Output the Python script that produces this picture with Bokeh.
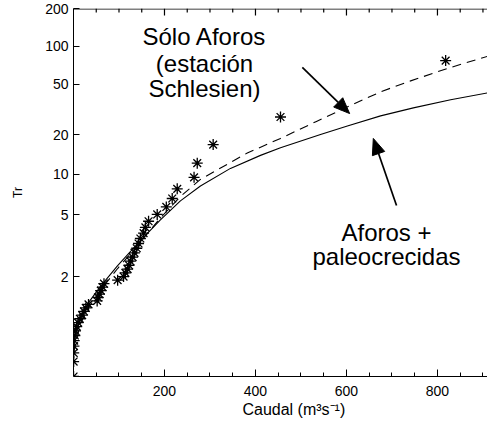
import numpy as np
from bokeh.plotting import figure
from bokeh.models import (Range1d, FixedTicker, CustomJSTickFormatter,
                          Label, ColumnDataSource)
from bokeh.embed import file_html
from bokeh.resources import INLINE

# ---- data (Caudal in m3/s, Tr = return period in years) ----
fit_all_q = [0, 7, 15, 33, 59, 97, 125, 154, 191, 235, 279, 345, 411, 455, 543, 602, 675, 747, 829, 910]
fit_all_tr = [1.093, 1.182, 1.287, 1.485, 1.769, 2.313, 2.822, 3.488, 4.604, 6.31, 8.14, 11.05,
              13.9, 15.9, 20.2, 23.5, 28.2, 32.6, 37.7, 42.8]

fit_gauge_q = [0, 15, 33, 59, 97, 125, 154, 191, 235, 279, 382, 455, 534, 607, 675, 741, 822, 910]
fit_gauge_tr = [1.064, 1.239, 1.415, 1.689, 2.222, 2.722, 3.458, 4.757, 6.80, 9.12, 14.5, 18.8,
                25.5, 33.8, 43.6, 53.2, 66.8, 83.3]

obs_q = [818, 455, 307, 272, 265, 228, 217, 204, 184, 165, 158, 154, 147, 143, 139, 134, 130, 125,
         122, 119, 114, 110, 97, 67, 64, 60, 57, 54, 52, 33, 27, 23, 19, 14, 10, 7, 4.5, 3, 1.5,
         1, 0.5, 0.3, 0.1]
obs_tr = [77.0, 27.64, 16.84, 12.11, 9.456, 7.755, 6.573, 5.704, 5.037, 4.510, 4.083, 3.730,
          3.433, 3.180, 2.962, 2.771, 2.604, 2.456, 2.323, 2.204, 2.097, 2.000, 1.911, 1.830,
          1.756, 1.687, 1.623, 1.565, 1.510, 1.459, 1.411, 1.366, 1.324, 1.285, 1.248, 1.213,
          1.179, 1.148, 1.118, 1.090, 1.063, 1.038, 1.013]

y_tick_tr = [2, 5, 10, 20, 50, 100, 200]
x_tick_q = [200, 400, 600, 800]
x_minor_q = [50, 100, 150, 250, 300, 350, 450, 500, 550, 650, 700, 750, 850, 900]
y_lo_tr, y_hi_tr = 1.013, 200
x_lo, x_hi = 0, 910


def gumbel(t):
    t = np.asarray(t, dtype=float)
    return -np.log(-np.log(1.0 - 1.0 / t))


FONT = "Liberation Sans"
FRAME_W, FRAME_H = 414, 368
y_lo, y_hi = float(gumbel(y_lo_tr)), float(gumbel(y_hi_tr))
per_px = (y_hi - y_lo) / FRAME_H          # data units (gumbel) per screen pixel
qx_per_px = (x_hi - x_lo) / FRAME_W       # data units (Q) per screen pixel

p = figure(width=487, height=421, output_backend="svg", toolbar_location=None,
           x_range=Range1d(x_lo, x_hi), y_range=Range1d(y_lo, y_hi),
           min_border_left=73, min_border_right=0, min_border_top=8, min_border_bottom=45)
p.title.visible = False
p.outline_line_color = None
p.grid.visible = False

# fitted curves and observations
p.line(fit_all_q, gumbel(fit_all_tr), line_color="black", line_width=1.1)
p.line(fit_gauge_q, gumbel(fit_gauge_tr), line_color="black", line_width=1.1, line_dash="9 6")
p.scatter(obs_q, gumbel(obs_tr), marker="asterisk", size=11, line_color="black", line_width=1.3)

# y axis
ya = p.yaxis[0]
ya.ticker = FixedTicker(ticks=[float(v) for v in gumbel(y_tick_tr)], minor_ticks=[])
ya.formatter = CustomJSTickFormatter(code="""
    const T = 1.0 / (1.0 - Math.exp(-Math.exp(-tick)));
    return Math.round(T).toString();
""")
ya.axis_label = "Tr"
ya.axis_label_text_font = FONT
ya.axis_label_text_font_size = "12px"
ya.axis_label_text_font_style = "normal"
ya.axis_label_text_color = "black"
ya.axis_label_standoff = 17
ya.major_label_text_font = FONT
ya.major_label_text_font_size = "14px"
ya.major_label_text_color = "black"
ya.major_label_standoff = 5
ya.major_tick_in = 6
ya.major_tick_out = 0
ya.axis_line_color = "black"
ya.major_tick_line_color = "black"

# x axis
xa = p.xaxis[0]
xa.ticker = FixedTicker(ticks=x_tick_q, minor_ticks=x_minor_q)
xa.axis_label = "\u00a0" * 6 + "Caudal (m³s⁻¹)"
xa.axis_label_text_font = FONT
xa.axis_label_text_font_size = "16px"
xa.axis_label_text_font_style = "normal"
xa.axis_label_text_color = "black"
xa.axis_label_standoff = 2
xa.major_label_text_font = FONT
xa.major_label_text_font_size = "14px"
xa.major_label_text_color = "black"
xa.major_label_standoff = 9
xa.major_tick_in = 7
xa.major_tick_out = 0
xa.minor_tick_in = 4
xa.minor_tick_out = 0
xa.axis_line_color = "black"
xa.major_tick_line_color = "black"
xa.minor_tick_line_color = "black"

# text annotations
notes = [
    ("Sólo Aforos", 288, 120.0),
    ("(estación", 288, 73.5),
    ("Schlesien)", 288, 46.0),
    ("Aforos +", 688, 3.75),
    ("paleocrecidas", 688, 2.62),
]
for txt, qx, tr in notes:
    p.add_layout(Label(x=qx, y=float(gumbel(tr)), text=txt, text_align="center",
                       text_baseline="alphabetic", text_font=FONT, text_font_size="24px",
                       text_color="black"))

# arrows drawn as shaft segment + filled triangular head (no clipping tricks)
arrows = [((503, 68.1), (607, 29.4)), ((710, 5.85), (659, 18.8))]
HEAD_LEN, HEAD_HALF = 16, 6.5
for (q0, t0), (q1, t1) in arrows:
    g0, g1 = float(gumbel(t0)), float(gumbel(t1))
    dx = (q1 - q0) / qx_per_px
    dy = (g1 - g0) / per_px
    L = float(np.hypot(dx, dy))
    ux, uy = dx / L, dy / L
    nx, ny = -uy, ux
    bx, by = -ux * HEAD_LEN, -uy * HEAD_LEN          # base centre, px offset from tip
    hx = [0.0, bx + nx * HEAD_HALF, bx - nx * HEAD_HALF]
    hy = [0.0, by + ny * HEAD_HALF, by - ny * HEAD_HALF]
    p.patch([q1 + v * qx_per_px for v in hx], [g1 + v * per_px for v in hy],
            fill_color="black", line_color="black", line_width=1)
    p.segment(x0=[q0], y0=[g0], x1=[q1 + bx * qx_per_px], y1=[g1 + by * per_px],
              line_color="black", line_width=1.7)

# inward ticks and line along the top frame edge (drawn last)
top_src = ColumnDataSource(dict(
    x=x_tick_q + x_minor_q,
    y0=[y_hi] * (len(x_tick_q) + len(x_minor_q)),
    y1=[y_hi - 7 * per_px] * len(x_tick_q) + [y_hi - 4 * per_px] * len(x_minor_q),
))
p.segment(x0="x", x1="x", y0="y0", y1="y1", source=top_src, line_color="black", line_width=1.2)
p.segment(x0=[x_lo], x1=[x_hi], y0=[y_hi - 0.5 * per_px], y1=[y_hi - 0.5 * per_px],
          line_color="black", line_width=1.2)

open("out.html", "w").write(file_html(p, INLINE))
